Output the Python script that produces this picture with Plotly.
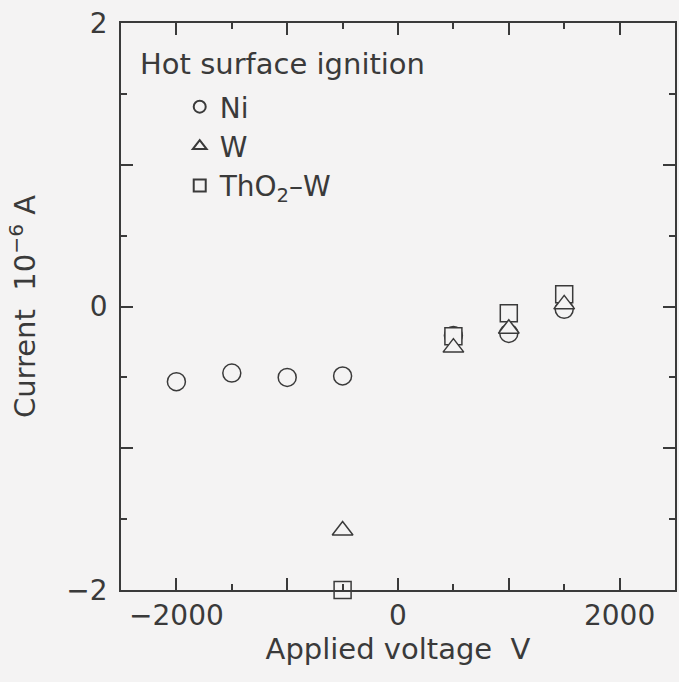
import plotly.graph_objects as go

# Applied voltage (V) and measured current (10^-6 A) for each hot-surface material
ni_voltage = [-2000, -1500, -1000, -500, 500, 1000, 1500]
ni_current = [-0.53, -0.47, -0.50, -0.49, -0.205, -0.19, -0.02]

w_voltage = [-500, 500, 1000, 1500]
w_current = [-1.58, -0.29, -0.157, 0.015]

thw_voltage = [-500, 500, 1000, 1500]
thw_current = [-2.0, -0.21, -0.047, 0.087]

# Labelled major ticks, unlabelled major ticks and minor ticks
x_label_vals = [-2000, 0, 2000]
x_label_text = ["\u22122000", "0", "2000"]
x_plain_major = [-1000, 1000]
x_minor = [-1500, -500, 500, 1500]
y_label_vals = [-2, 0, 2]
y_label_text = ["\u22122", "0", "2"]
y_plain_major = [-1, 1]
y_minor = [-1.5, -0.5, 0.5, 1.5]

X_RANGE = [-2500, 2500]
Y_RANGE = [-2, 2]

BG = "#f4f3f3"
INK = "#3a3a3a"
FONT = "DejaVu Sans"


def marker(symbol, size):
    return dict(symbol=symbol, size=size, color=BG,
                line=dict(color=INK, width=1.5))


fig = go.Figure()
fig.add_trace(go.Scatter(x=ni_voltage, y=ni_current, mode="markers", name="Ni",
                         marker=marker("circle", 18), legendrank=1, cliponaxis=False))
fig.add_trace(go.Scatter(x=thw_voltage, y=thw_current, mode="markers",
                         name="ThO<sub>2</sub>\u2013W",
                         marker=marker("square", 17), legendrank=3, cliponaxis=False))
fig.add_trace(go.Scatter(x=w_voltage, y=w_current, mode="markers", name="W",
                         marker=marker("triangle-up", 18), legendrank=2, cliponaxis=False))
# empty trace so the overlay axes (extra long ticks) are drawn
fig.add_trace(go.Scatter(x=[], y=[], xaxis="x2", yaxis="y2", showlegend=False,
                         hoverinfo="skip"))

tick_common = dict(ticks="inside", ticklen=12, tickwidth=1.5, tickcolor=INK,
                   showgrid=False, zeroline=False)
minor_common = dict(tickmode="array", ticks="inside", ticklen=6, tickwidth=1.5,
                    tickcolor=INK, showgrid=False)

fig.update_layout(
    xaxis=dict(
        range=X_RANGE, tickmode="array", tickvals=x_label_vals, ticktext=x_label_text,
        minor=dict(tickvals=x_minor, **minor_common),
        showline=True, linecolor=INK, linewidth=1.5, mirror="ticks",
        ticklabelstandoff=0,
        tickfont=dict(family=FONT, size=28, color=INK),
        title=dict(text="Applied voltage\u00a0\u00a0V", standoff=2,
                   font=dict(family=FONT, size=29, color=INK)),
        **tick_common,
    ),
    yaxis=dict(
        range=Y_RANGE, tickmode="array", tickvals=y_label_vals, ticktext=y_label_text,
        minor=dict(tickvals=y_minor, **minor_common),
        showline=True, linecolor=INK, linewidth=1.5, mirror="ticks",
        ticklabelstandoff=6,
        tickfont=dict(family=FONT, size=28, color=INK),
        title=dict(text="Current\u00a0\u00a010<sup>\u22126</sup> A", standoff=22,
                   font=dict(family=FONT, size=29, color=INK)),
        **tick_common,
    ),
    xaxis2=dict(
        overlaying="x", anchor="y2", range=X_RANGE, tickmode="array",
        tickvals=x_plain_major, showticklabels=False, showline=False,
        mirror="ticks", **tick_common,
    ),
    yaxis2=dict(
        overlaying="y", anchor="x2", range=Y_RANGE, tickmode="array",
        tickvals=y_plain_major, showticklabels=False, showline=False,
        mirror="ticks", **tick_common,
    ),
)

fig.add_annotation(
    text="Hot surface ignition", xref="paper", yref="paper", x=0.03, y=0.928,
    xanchor="left", yanchor="middle", showarrow=False,
    font=dict(family=FONT, size=29, color=INK),
)

fig.update_layout(
    width=679, height=682,
    margin=dict(l=121, r=2, t=23, b=92),
    paper_bgcolor=BG, plot_bgcolor=BG,
    font=dict(family=FONT, color=INK),
    showlegend=True,
    legend=dict(x=0.106, y=0.896, xanchor="left", yanchor="top",
                bgcolor="rgba(0,0,0,0)", borderwidth=0, itemsizing="constant",
                font=dict(family=FONT, size=28, color=INK),
                traceorder="normal"),
)

fig.write_html("out.html")
